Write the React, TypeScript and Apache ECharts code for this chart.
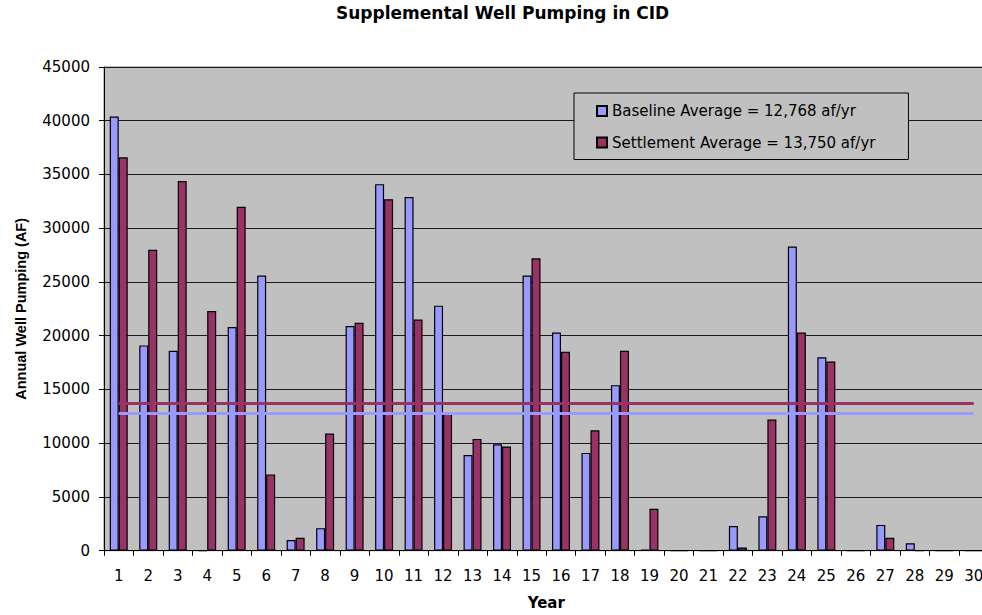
import React, { useEffect, useRef } from "react";
import * as echarts from "echarts";

const TITLE = "Supplemental Well Pumping in CID";
const Y_NAME = "Annual Well Pumping (AF)";
const X_NAME = "Year";

const YEARS = [
  "1", "2", "3", "4", "5", "6", "7", "8", "9", "10",
  "11", "12", "13", "14", "15", "16", "17", "18", "19", "20",
  "21", "22", "23", "24", "25", "26", "27", "28", "29", "30",
];

const BASELINE_NAME = "Baseline Average = 12,768 af/yr";
const SETTLEMENT_NAME = "Settlement Average = 13,750 af/yr";

const BASELINE = [
  40400, 19100, 18600, 0, 20800, 25600, 1000, 2100, 20900, 34100,
  32900, 22800, 8900, 9900, 25600, 20300, 9100, 15400, 100, 0,
  0, 2300, 3200, 28300, 18000, 0, 2400, 700, 0, 0,
];

const SETTLEMENT = [
  36600, 28000, 34400, 22300, 32000, 7100, 1200, 10900, 21200, 32700,
  21500, 12900, 10400, 9700, 27200, 18500, 11200, 18600, 3900, 0,
  0, 300, 12200, 20300, 17600, 0, 1200, 0, 0, 0,
];

const BASELINE_AVG = 12768;
const SETTLEMENT_AVG = 13750;

const Y_MIN = 0;
const Y_MAX = 45000;
const Y_STEP = 5000;

const BLUE = "#9999FF";
const PURPLE = "#993366";
const FONT = "DejaVu Sans";

export default function App() {
  const ref = useRef<HTMLDivElement>(null);

  useEffect(() => {
    if (!ref.current) return;
    const chart = echarts.init(ref.current, null, { renderer: "svg" });
    const first = YEARS[0];
    const last = YEARS[YEARS.length - 1];
    chart.setOption({
      animation: false,
      textStyle: { fontFamily: FONT, color: "#000" },
      title: {
        text: TITLE,
        left: 336,
        top: 4,
        padding: 0,
        textStyle: { fontFamily: FONT, fontWeight: "bold", fontSize: 17, color: "#000" },
      },
      legend: {
        orient: "vertical",
        left: 574,
        top: 93,
        data: [BASELINE_NAME, SETTLEMENT_NAME],
        icon: "rect",
        itemWidth: 10,
        itemHeight: 10,
        itemGap: 15.5,
        padding: [10, 33, 9, 22],
        backgroundColor: "#C0C0C0",
        borderColor: "#000",
        borderWidth: 1,
        borderRadius: 0,
        textStyle: { fontFamily: FONT, fontSize: 15, color: "#000", lineHeight: 16 },
      },
      grid: {
        left: 104,
        top: 67,
        width: 884.5,
        height: 483.7,
        containLabel: false,
        outerBoundsMode: "none",
        show: true,
        backgroundColor: "#C0C0C0",
        borderColor: "#808080",
        borderWidth: 1,
      },
      xAxis: {
        type: "category",
        data: YEARS,
        boundaryGap: true,
        name: X_NAME,
        nameLocation: "middle",
        nameGap: 45,
        nameTextStyle: { fontFamily: FONT, fontWeight: "bold", fontSize: 15, color: "#000" },
        axisLine: { show: true, lineStyle: { color: "#000", width: 1 } },
        axisTick: { show: true, length: 5, lineStyle: { color: "#000" } },
        axisLabel: { fontFamily: FONT, fontSize: 15, color: "#000", margin: 18, interval: 0 },
        splitLine: { show: false },
      },
      yAxis: {
        type: "value",
        min: Y_MIN,
        max: Y_MAX,
        interval: Y_STEP,
        name: Y_NAME,
        nameLocation: "middle",
        nameGap: 76,
        nameTextStyle: { fontFamily: "Liberation Sans", fontWeight: "bold", fontSize: 14.5, color: "#000" },
        axisLine: { show: true, lineStyle: { color: "#000", width: 1 } },
        axisTick: { show: true, length: 5, lineStyle: { color: "#000" } },
        axisLabel: {
          fontFamily: FONT,
          fontSize: 15,
          color: "#000",
          margin: 14,
          formatter: (v: number) => String(v),
        },
        splitLine: { show: true, lineStyle: { color: "#1a1a1a", width: 1 } },
      },
      series: [
        {
          name: BASELINE_NAME,
          type: "bar",
          data: BASELINE,
          barGap: "0%",
          barCategoryGap: "39%",
          itemStyle: { color: BLUE, borderColor: "#000", borderWidth: 1.2 },
        },
        {
          name: SETTLEMENT_NAME,
          type: "bar",
          data: SETTLEMENT,
          barGap: "0%",
          barCategoryGap: "39%",
          itemStyle: { color: PURPLE, borderColor: "#000", borderWidth: 1.2 },
        },
        {
          name: "averages",
          type: "line",
          data: [],
          z: 10,
          silent: true,
          markLine: {
            silent: true,
            symbol: "none",
            label: { show: false },
            emphasis: { disabled: true },
            data: [
              [
                { coord: [first, BASELINE_AVG], lineStyle: { color: BLUE, width: 3, type: "solid" } },
                { coord: [last, BASELINE_AVG] },
              ],
              [
                { coord: [first, SETTLEMENT_AVG], lineStyle: { color: PURPLE, width: 3, type: "solid" } },
                { coord: [last, SETTLEMENT_AVG] },
              ],
            ],
          },
        },
      ],
    });
    return () => chart.dispose();
  }, []);

  return (
    <div
      ref={ref}
      style={{ position: "absolute", left: 0, top: 0, width: 982, height: 615, background: "#fff" }}
    />
  );
}
